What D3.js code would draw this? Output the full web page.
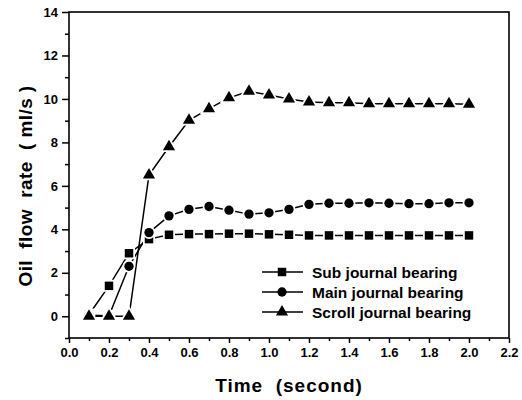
<!DOCTYPE html>
<html>
<head>
<meta charset="utf-8">
<script src="https://cdn.jsdelivr.net/npm/d3@7"></script>
<style>
  body { margin: 0; background: #fff; }
  text { font-family: Arial, "Liberation Sans", sans-serif; font-weight: bold; fill: #000; }
</style>
</head>
<body>
<svg id="chart" width="522" height="400"></svg>
<script>
// time points (second)
var times = [0.1, 0.2, 0.3, 0.4, 0.5, 0.6, 0.7, 0.8, 0.9, 1.0,
             1.1, 1.2, 1.3, 1.4, 1.5, 1.6, 1.7, 1.8, 1.9, 2.0];

// oil flow rate (ml/s)
var subBearing = [0.08, 1.4, 2.9, 3.55, 3.75, 3.78, 3.78, 3.8, 3.8, 3.77,
                  3.75, 3.72, 3.72, 3.72, 3.72, 3.72, 3.72, 3.72, 3.72, 3.72];
var mainBearing = [0.05, 0.02, 2.3, 3.85, 4.62, 4.92, 5.05, 4.88, 4.7, 4.76,
                   4.92, 5.15, 5.2, 5.2, 5.22, 5.2, 5.18, 5.18, 5.22, 5.22];
var scrollBearing = [0.0, 0.0, 0.0, 6.5, 7.8, 9.02, 9.55, 10.05, 10.35, 10.18,
                     10.0, 9.86, 9.82, 9.82, 9.78, 9.78, 9.78, 9.78, 9.78, 9.76];

var seriesNames = ["Sub journal bearing", "Main journal bearing", "Scroll journal bearing"];
var xTickLabels = ["0.0", "0.2", "0.4", "0.6", "0.8", "1.0", "1.2", "1.4", "1.6", "1.8", "2.0", "2.2"];
var yTickLabels = ["0", "2", "4", "6", "8", "10", "12", "14"];

var svg = d3.select("#chart"),
  margin = { top: 12, right: 13, bottom: 62, left: 69 },
  width = +svg.attr("width") - margin.left - margin.right,
  height = +svg.attr("height") - margin.top - margin.bottom;

var g = svg.append("g")
  .attr("transform", "translate(" + margin.left + "," + margin.top + ")");

var x = d3.scaleLinear().domain([0, 2.2]).range([0, width]);
var y = d3.scaleLinear().domain([-1, 14]).range([height, 0]);

// frame
g.append("rect")
  .attr("width", width)
  .attr("height", height)
  .attr("fill", "none")
  .attr("stroke", "#000")
  .attr("stroke-width", 1.6);

function styleTicks(a) {
  a.select(".domain").remove();
  a.selectAll("line").attr("stroke-width", 1.5);
  a.selectAll("text")
    .attr("font-size", 13)
    .attr("font-family", "Arial, 'Liberation Sans', sans-serif")
    .attr("font-weight", "bold")
    .attr("fill", "#000");
}

// x axis: major ticks with labels, minor ticks between
var xMajor = xTickLabels.map(function (d) { return +d; });
var xMinor = d3.range(0.1, 2.2, 0.2);
g.append("g")
  .attr("transform", "translate(0," + height + ")")
  .call(d3.axisBottom(x).tickValues(xMinor).tickSize(3).tickFormat(""))
  .call(styleTicks);
g.append("g")
  .attr("transform", "translate(0," + height + ")")
  .call(d3.axisBottom(x).tickValues(xMajor).tickSize(5).tickPadding(5)
    .tickFormat(function (d, i) { return xTickLabels[i]; }))
  .call(styleTicks);

// y axis
var yMajor = yTickLabels.map(function (d) { return +d; });
var yMinor = d3.range(-1, 14, 2);
g.append("g")
  .call(d3.axisLeft(y).tickValues(yMinor).tickSize(4).tickFormat(""))
  .call(styleTicks);
g.append("g")
  .call(d3.axisLeft(y).tickValues(yMajor).tickSize(7).tickPadding(4)
    .tickFormat(function (d, i) { return yTickLabels[i]; }))
  .call(styleTicks);

// axis titles
svg.append("text")
  .attr("x", margin.left + width / 2)
  .attr("y", 392)
  .attr("text-anchor", "middle")
  .style("font-size", "19px")
  .style("letter-spacing", "1px")
  .style("white-space", "pre")
  .text("Time  (second)");

svg.append("text")
  .attr("transform", "translate(32,186) rotate(-90)")
  .attr("text-anchor", "middle")
  .style("font-size", "19px")
  .style("letter-spacing", "0.4px")
  .style("white-space", "pre")
  .text("Oil  flow  rate  ( ml/s )");

// series
var series = [
  { name: seriesNames[0], values: subBearing, symbol: d3.symbolSquare, size: 72 },
  { name: seriesNames[1], values: mainBearing, symbol: d3.symbolCircle, size: 68 },
  { name: seriesNames[2], values: scrollBearing, symbol: d3.symbolTriangle, size: 64 }
];

var line = d3.line()
  .x(function (d) { return x(d.t); })
  .y(function (d) { return y(d.v); });

series.forEach(function (s) {
  var pts = times.map(function (t, i) { return { t: t, v: s.values[i] }; });
  g.append("path")
    .datum(pts)
    .attr("d", line)
    .attr("fill", "none")
    .attr("stroke", "#000")
    .attr("stroke-width", 1.5);
});

series.forEach(function (s) {
  var pts = times.map(function (t, i) { return { t: t, v: s.values[i] }; });
  g.selectAll(null)
    .data(pts)
    .enter()
    .append("path")
    .attr("d", d3.symbol().type(s.symbol).size(s.size))
    .attr("transform", function (d) {
      return "translate(" + x(d.t) + "," + y(d.v) + ")";
    })
    .attr("fill", "#000")
    .attr("stroke", "#fff")
    .attr("stroke-width", 3.5)
    .style("paint-order", "stroke");
});

// legend
var legend = svg.append("g").attr("transform", "translate(262,272)");
var legendItems = legend.selectAll(".legend-item")
  .data(series)
  .enter()
  .append("g")
  .attr("class", "legend-item")
  .attr("transform", function (d, i) { return "translate(0," + i * 20 + ")"; });

legendItems.append("line")
  .attr("x1", 0).attr("x2", 41)
  .attr("stroke", "#000").attr("stroke-width", 1.5);

legendItems.append("path")
  .attr("d", function (d) { return d3.symbol().type(d.symbol).size(d.size)(); })
  .attr("transform", "translate(20,0)")
  .attr("fill", "#000");

legendItems.append("text")
  .attr("x", 50)
  .attr("dy", "0.36em")
  .style("font-size", "15.5px")
  .text(function (d) { return d.name; });
</script>
</body>
</html>
